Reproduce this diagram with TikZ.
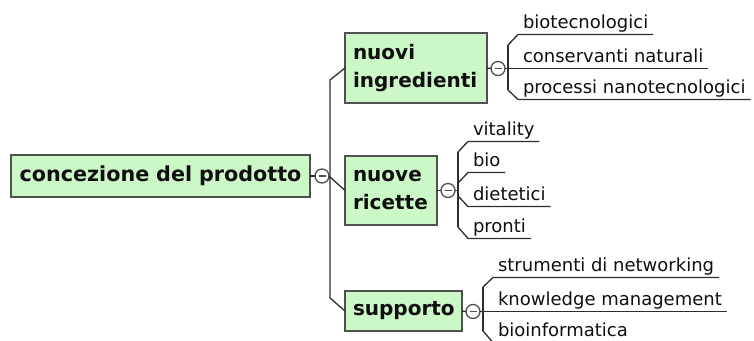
\documentclass[tikz,border=0pt]{standalone}
\usepackage{fontspec}
\setmainfont{DejaVu Sans}
\definecolor{boxfill}{RGB}{204,247,199}
\definecolor{boxline}{RGB}{80,80,80}
\definecolor{linec}{RGB}{45,45,45}
\definecolor{togc}{RGB}{80,80,80}
\definecolor{textc}{RGB}{15,15,15}
\begin{document}
\begin{tikzpicture}[x=1pt,y=-1pt,
  conn/.style={draw=linec, line width=1.3pt},
  box/.style={draw=boxline, fill=boxfill, line width=1.3pt, anchor=north west,
    inner xsep=8pt, inner ysep=0pt, outer sep=0pt, text=textc,
    font=\fontsize{20}{28}\selectfont\bfseries},
  leaf/.style={anchor=south west, inner xsep=5pt, inner ysep=0pt, outer sep=0pt,
    text height=14pt, text depth=6pt, text=textc, font=\fontsize{18}{22}\selectfont},
  tog/.style={circle, draw=togc, fill=white, minimum size=14pt, inner sep=0pt,
    outer sep=0pt, line width=1.3pt,
    path picture={\draw[draw=togc, line width=1.3pt]
      ([xshift=-3.5pt]path picture bounding box.center) --
      ([xshift=3.5pt]path picture bounding box.center);}}
]
\useasboundingbox (0,0) rectangle (754,340);
\clip (0,0) rectangle (754,340);

% root
\node[box, text width=283pt, minimum height=42pt, align=center,
  font=\fontsize{20.7}{28}\selectfont\bfseries] (root) at (11,155) {concezione del prodotto};
\node[tog] (t0) at (322,176) {};
\draw[conn] (root.east) -- (t0.west);

% main boxes
\node[box, text width=126pt, minimum height=70pt, align=left] (b1) at (345,33) {nuovi\\ingredienti};
\node[box, text width=76pt, minimum height=69pt, align=left] (b2) at (345,156) {nuove\\ricette};
\node[box, text width=101pt, minimum height=40pt, align=left] (b3) at (345,291) {supporto};

% trunk
\coordinate (j1) at (330,80);
\coordinate (j2) at (330,298);
\draw[conn] (b1.west) -- (j1) -- (j2) -- (b3.west);
\draw[conn] (t0.east) -- (b2.west);

% group 1
\node[tog] (t1) at (498,68.5) {};
\draw[conn] (b1.east) -- (t1.west);
\coordinate (k11) at (508,45);
\coordinate (k13) at (508,90);
\draw[conn] (k11) -- (k13);
\node[leaf] (n11) at (518,34.5) {biotecnologici};
\node[leaf] (n12) at (518,68.5) {conservanti naturali};
\node[leaf] (n13) at (518,99.5) {processi nanotecnologici};
\draw[conn] (k11) -- (n11.south west) -- (n11.south east);
\draw[conn] (t1.east) -- (n12.south west) -- (n12.south east);
\draw[conn] (k13) -- (n13.south west) -- (n13.south east);

% group 2
\node[tog] (t2) at (448,190.5) {};
\draw[conn] (b2.east) -- (t2.west);
\coordinate (v2) at (458,190.5);
\coordinate (k21) at (458,152);
\coordinate (k22) at (458,183);
\coordinate (k23) at (458,196);
\coordinate (k24) at (458,227);
\draw[conn] (t2.east) -- (v2);
\draw[conn] (k21) -- (k24);
\node[leaf] (n21) at (468,141.5) {vitality};
\node[leaf] (n22) at (468,172.5) {bio};
\node[leaf] (n23) at (468,206.5) {dietetici};
\node[leaf] (n24) at (468,238.5) {pronti};
\draw[conn] (k21) -- (n21.south west) -- (n21.south east);
\draw[conn] (k22) -- (n22.south west) -- (n22.south east);
\draw[conn] (k23) -- (n23.south west) -- (n23.south east);
\draw[conn] (k24) -- (n24.south west) -- (n24.south east);

% group 3
\node[tog] (t3) at (473,311.5) {};
\draw[conn] (b3.east) -- (t3.west);
\coordinate (k31) at (483,287);
\coordinate (k33) at (483,331);
\draw[conn] (k31) -- (k33);
\node[leaf] (n31) at (493,277.5) {strumenti di networking};
\node[leaf] (n32) at (493,311.5) {knowledge management};
\node[leaf] (n33) at (493,342.5) {bioinformatica};
\draw[conn] (k31) -- (n31.south west) -- (n31.south east);
\draw[conn] (t3.east) -- (n32.south west) -- (n32.south east);
\draw[conn] (k33) -- (n33.south west) -- (n33.south east);
\end{tikzpicture}
\end{document}
